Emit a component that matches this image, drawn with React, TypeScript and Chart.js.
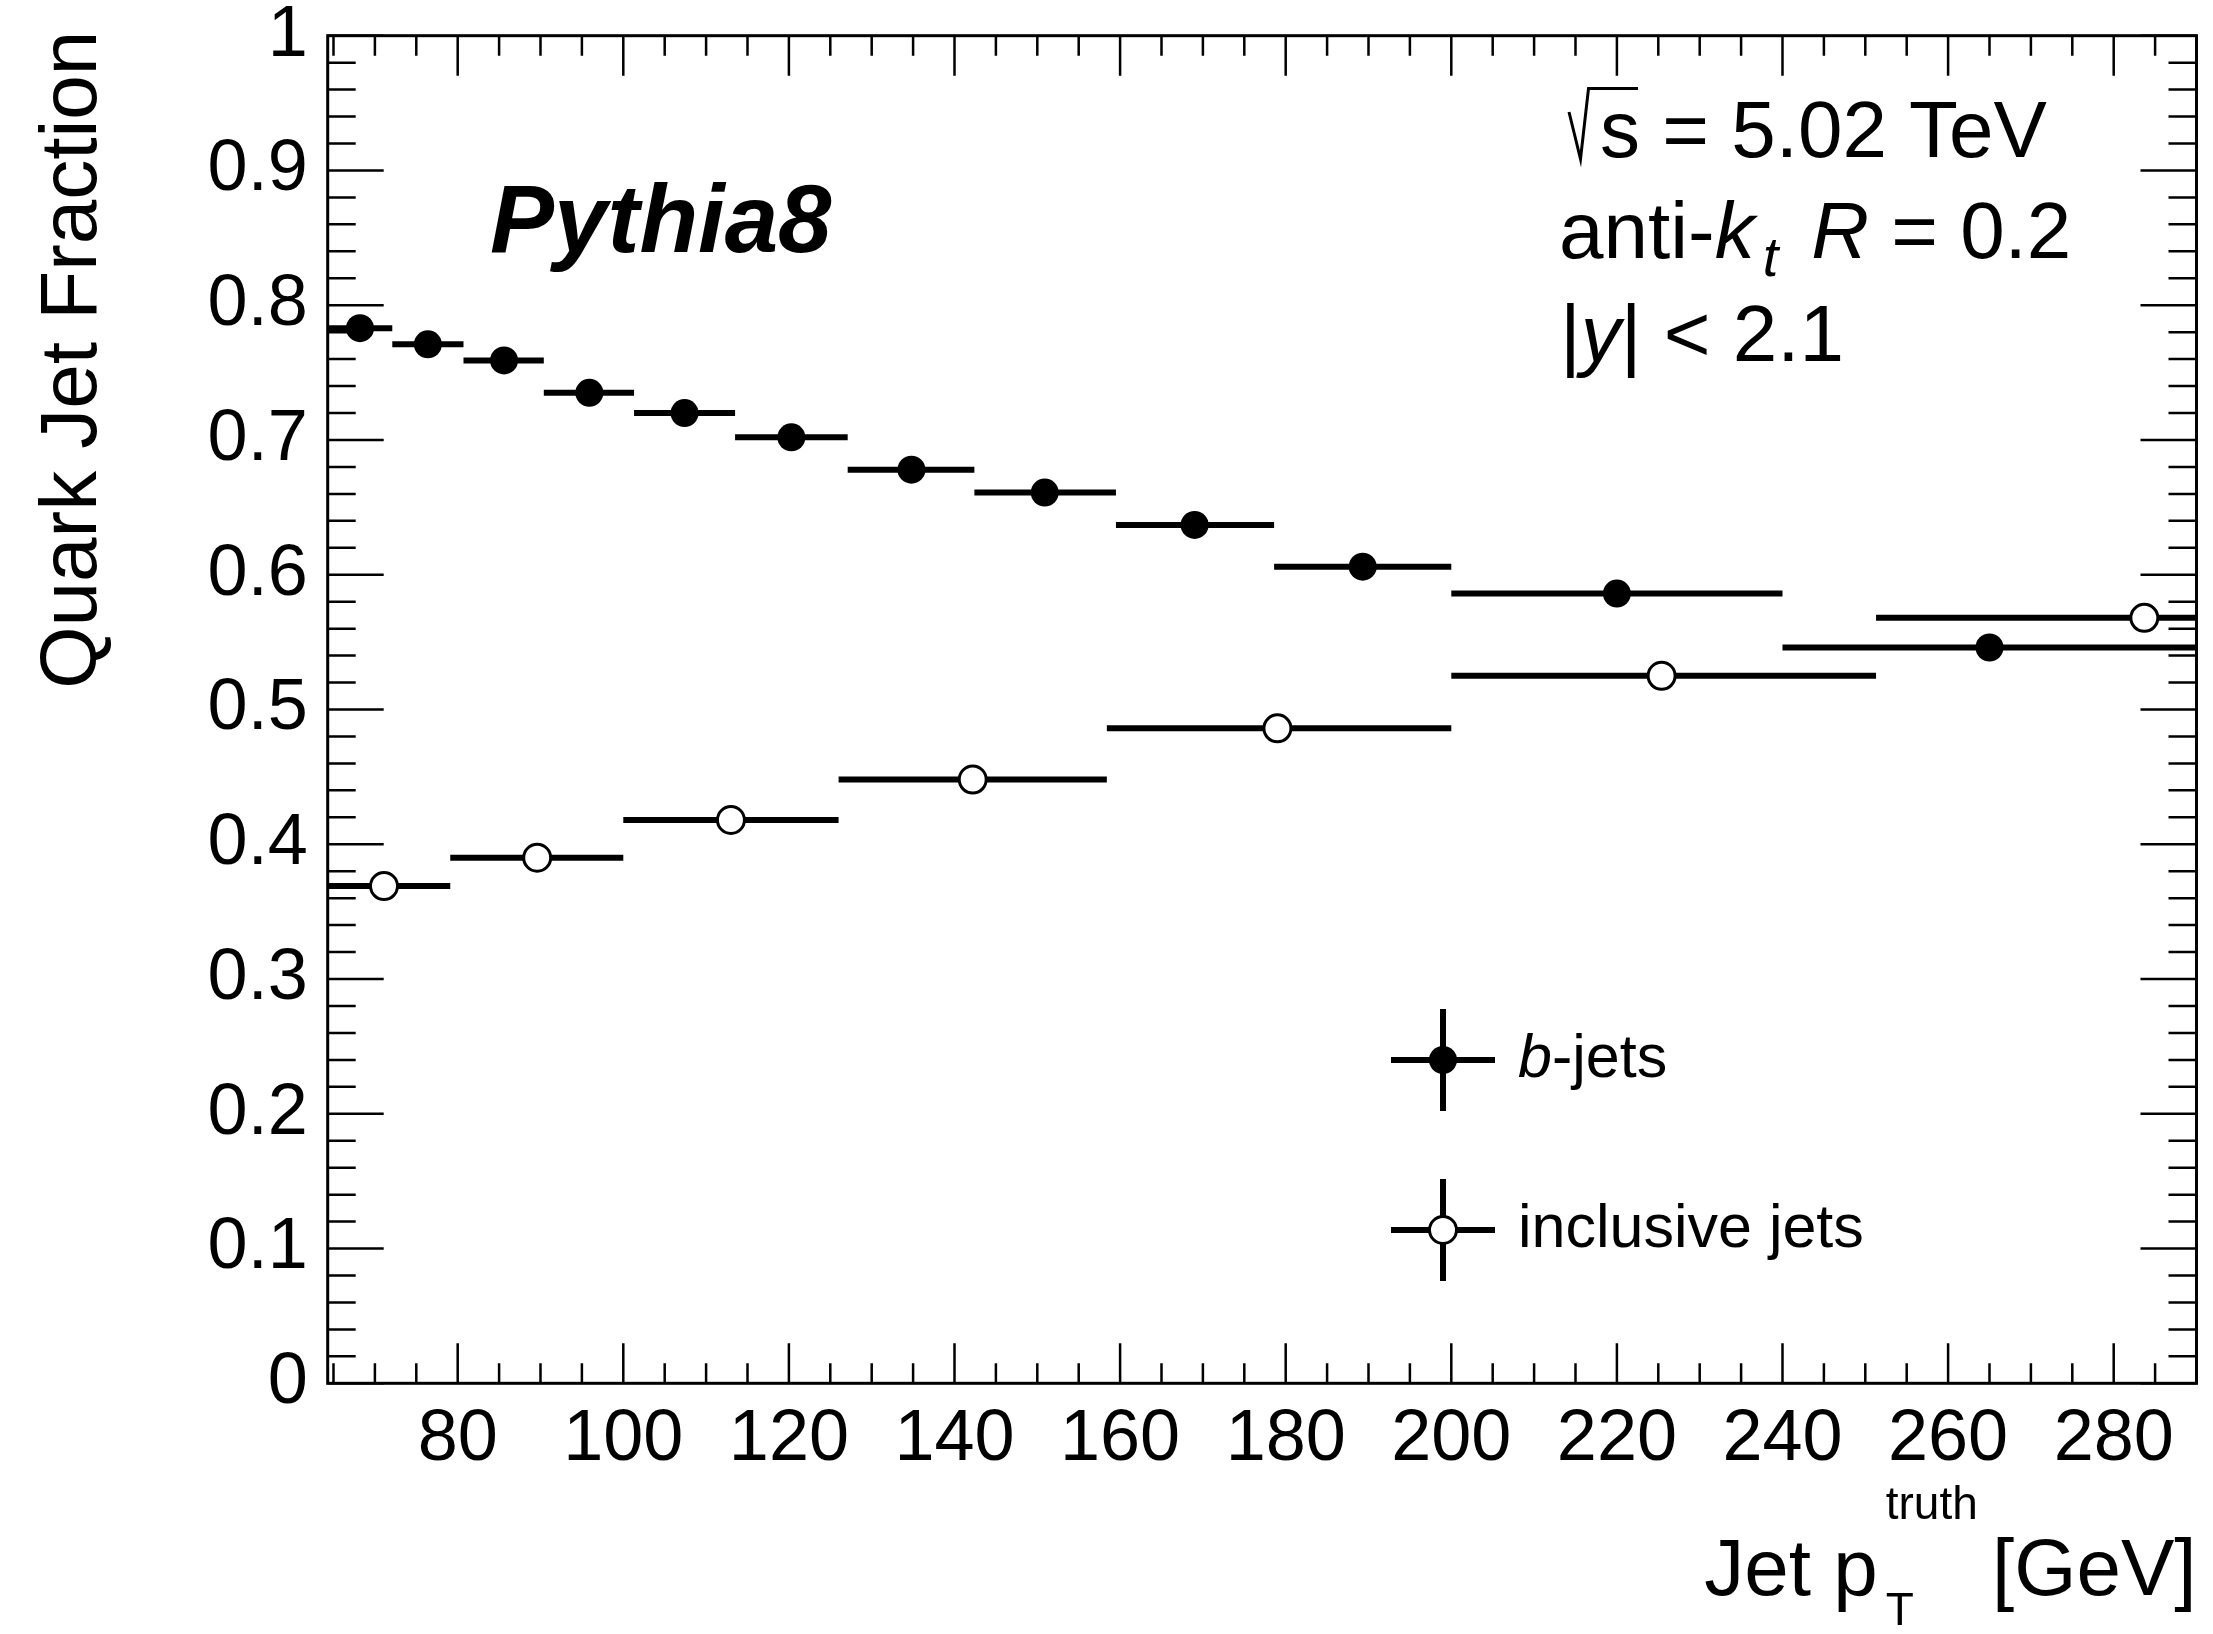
import React, { useEffect, useRef } from "react";
import { Chart, registerables } from "chart.js";

Chart.register(...registerables);

// ---- data ----
const xTickValues = [80, 100, 120, 140, 160, 180, 200, 220, 240, 260, 280];
const yTickValues = [0, 0.1, 0.2, 0.3, 0.4, 0.5, 0.6, 0.7, 0.8, 0.9, 1];

const bBinLow = [64.3, 72.1, 80.7, 90.4, 101.3, 113.5, 127.1, 142.4, 159.5, 178.6, 200, 240];
const bBinHigh = [72.1, 80.7, 90.4, 101.3, 113.5, 127.1, 142.4, 159.5, 178.6, 200, 240, 290];
const bPt = [68.2, 76.4, 85.6, 95.9, 107.4, 120.3, 134.8, 150.9, 169.0, 189.3, 220.0, 265.0];
const bFraction = [0.783, 0.771, 0.759, 0.735, 0.72, 0.702, 0.678, 0.661, 0.637, 0.606, 0.586, 0.546];

const inclBinLow = [63.2, 79.1, 100, 126, 158.4, 200, 251.3];
const inclBinHigh = [79.1, 100, 126, 158.4, 200, 251.3, 316];
const inclPt = [71.1, 89.6, 113.0, 142.2, 179.0, 225.4, 283.7];
const inclFraction = [0.369, 0.39, 0.418, 0.448, 0.486, 0.525, 0.568];

const FONT = '"Liberation Sans", Arial, Helvetica, sans-serif';

// target plot frame (pixels in the 2213x1634 page)
const FRAME = { left: 327.7, right: 2197.7, top: 35.7, bottom: 1383.3 };

type Run = { text: string; size: number; italic?: boolean; bold?: boolean; dy?: number; dx?: number };

function setFont(ctx: CanvasRenderingContext2D, r: Run) {
  ctx.font = `${r.italic ? "italic " : ""}${r.bold ? "bold " : ""}${r.size}px ${FONT}`;
}

function drawRuns(ctx: CanvasRenderingContext2D, x: number, y: number, runs: Run[]) {
  let cx = x;
  for (const r of runs) {
    setFont(ctx, r);
    cx += r.dx || 0;
    ctx.fillText(r.text, cx, y + (r.dy || 0));
    cx += ctx.measureText(r.text).width;
  }
  return cx;
}

function runsWidth(ctx: CanvasRenderingContext2D, runs: Run[]) {
  let w = 0;
  for (const r of runs) {
    setFont(ctx, r);
    w += (r.dx || 0) + ctx.measureText(r.text).width;
  }
  return w;
}

const errorBarPlugin = {
  id: "errorBars",
  beforeDatasetsDraw(chart: any) {
    const { ctx, chartArea, scales } = chart;
    const xs = scales.x;
    const ys = scales.y;
    ctx.save();
    ctx.beginPath();
    ctx.rect(chartArea.left, chartArea.top, chartArea.right - chartArea.left, chartArea.bottom - chartArea.top);
    ctx.clip();
    ctx.strokeStyle = "#000";
    ctx.lineWidth = 6;
    ctx.lineCap = "butt";
    const sets = [
      { lo: bBinLow, hi: bBinHigh, v: bFraction },
      { lo: inclBinLow, hi: inclBinHigh, v: inclFraction },
    ];
    for (const s of sets) {
      for (let i = 0; i < s.v.length; i++) {
        const py = ys.getPixelForValue(s.v[i]);
        ctx.beginPath();
        ctx.moveTo(xs.getPixelForValue(s.lo[i]), py);
        ctx.lineTo(xs.getPixelForValue(s.hi[i]), py);
        ctx.stroke();
      }
    }
    ctx.restore();
  },
};

const framePlugin = {
  id: "frame",
  afterDatasetsDraw(chart: any) {
    const { ctx, chartArea, scales } = chart;
    const xs = scales.x;
    const ys = scales.y;
    const { left, right, top, bottom } = chartArea;
    ctx.save();
    ctx.strokeStyle = "#000";
    ctx.lineWidth = 2.5;
    ctx.beginPath();
    for (let v = 65; v <= 290; v += 5) {
      const px = xs.getPixelForValue(v);
      const len = v % 20 === 0 ? 40 : 20;
      ctx.moveTo(px, bottom);
      ctx.lineTo(px, bottom - len);
      ctx.moveTo(px, top);
      ctx.lineTo(px, top + len);
    }
    for (let k = 0; k <= 50; k++) {
      const py = ys.getPixelForValue(k * 0.02);
      const len = k % 5 === 0 ? 56 : 28;
      ctx.moveTo(left, py);
      ctx.lineTo(left + len, py);
      ctx.moveTo(right, py);
      ctx.lineTo(right - len, py);
    }
    ctx.stroke();
    ctx.lineWidth = 3;
    ctx.strokeRect(left, top, right - left, bottom - top);
    ctx.restore();
  },
};

const textPlugin = {
  id: "texts",
  afterDraw(chart: any) {
    const { ctx, chartArea } = chart;
    ctx.save();
    ctx.fillStyle = "#000";
    ctx.strokeStyle = "#000";
    ctx.textBaseline = "alphabetic";
    ctx.textAlign = "left";

    // y-axis title
    ctx.save();
    ctx.translate(96, chartArea.top - 5);
    ctx.rotate(-Math.PI / 2);
    ctx.textAlign = "right";
    ctx.font = `80px ${FONT}`;
    ctx.fillText("Quark Jet Fraction", 0, 0);
    ctx.restore();

    // x-axis title
    const xRuns1: Run[] = [{ text: "Jet p", size: 80 }];
    ctx.font = `46px ${FONT}`;
    const wSup = ctx.measureText("truth").width;
    const xRuns2: Run[] = [{ text: " [GeV]", size: 80 }];
    const gap = 8;
    const total = runsWidth(ctx, xRuns1) + gap + wSup + runsWidth(ctx, xRuns2) - 8;
    const xStart = chartArea.right - total;
    const base = 1595;
    const cx = drawRuns(ctx, xStart, base, xRuns1);
    ctx.font = `46px ${FONT}`;
    ctx.fillText("truth", cx + gap, base - 76);
    ctx.fillText("T", cx + gap, base + 30);
    drawRuns(ctx, cx + gap + wSup - 8, base, xRuns2);

    // Pythia8
    drawRuns(ctx, 490, 252, [{ text: "Pythia8", size: 96, bold: true, italic: true }]);

    // sqrt(s) line
    ctx.lineWidth = 3;
    ctx.lineJoin = "miter";
    ctx.beginPath();
    ctx.moveTo(1569, 112);
    ctx.lineTo(1580.5, 159);
    ctx.lineTo(1588.5, 88.5);
    ctx.lineTo(1638, 88.5);
    ctx.stroke();
    drawRuns(ctx, 1600, 157, [{ text: "s = 5.02 TeV", size: 80 }]);

    // anti-kt line
    drawRuns(ctx, 1559, 258, [
      { text: "anti-", size: 80 },
      { text: "k", size: 80, italic: true },
      { text: "t", size: 56, italic: true, dy: 18, dx: 8 },
      { text: "R", size: 80, italic: true, dx: 33 },
      { text: " = 0.2", size: 80 },
    ]);

    // |y| line
    drawRuns(ctx, 1560, 361, [
      { text: "|", size: 80 },
      { text: "y", size: 80, italic: true },
      { text: "| < 2.1", size: 80 },
    ]);

    // legend
    const entries = [
      { cy: 1060, filled: true, runs: [{ text: "b", size: 61, italic: true }, { text: "-jets", size: 61 }] as Run[] },
      { cy: 1230, filled: false, runs: [{ text: "inclusive jets", size: 61 }] as Run[] },
    ];
    const lx = 1443;
    for (const e of entries) {
      ctx.lineWidth = 6;
      ctx.beginPath();
      ctx.moveTo(lx - 52, e.cy);
      ctx.lineTo(lx + 52, e.cy);
      ctx.moveTo(lx, e.cy - 51);
      ctx.lineTo(lx, e.cy + 51);
      ctx.stroke();
      ctx.beginPath();
      if (e.filled) {
        ctx.arc(lx, e.cy, 14, 0, Math.PI * 2);
        ctx.fillStyle = "#000";
        ctx.fill();
      } else {
        ctx.arc(lx, e.cy, 13.5, 0, Math.PI * 2);
        ctx.fillStyle = "#fff";
        ctx.fill();
        ctx.lineWidth = 3;
        ctx.stroke();
        ctx.fillStyle = "#000";
      }
      drawRuns(ctx, 1518, e.cy + 17, e.runs);
    }
    ctx.restore();
  },
};

export default function App() {
  const canvasRef = useRef<HTMLCanvasElement | null>(null);

  useEffect(() => {
    const canvas = canvasRef.current;
    if (!canvas) return;
    const geom = { yWidth: FRAME.left, xHeight: 1634 - FRAME.bottom };
    const chart = new Chart(canvas, {
      type: "scatter",
      data: {
        datasets: [
          {
            label: "b-jets",
            data: bPt.map((x, i) => ({ x, y: bFraction[i] })),
            pointRadius: 14,
            pointBackgroundColor: "#000",
            pointBorderColor: "#000",
            pointBorderWidth: 0,
            showLine: false,
          },
          {
            label: "inclusive jets",
            data: inclPt.map((x, i) => ({ x, y: inclFraction[i] })),
            pointRadius: 13.5,
            pointBackgroundColor: "#fff",
            pointBorderColor: "#000",
            pointBorderWidth: 3,
            showLine: false,
          },
        ],
      },
      options: {
        responsive: false,
        animation: false,
        devicePixelRatio: 1,
        layout: { padding: { left: 0, top: FRAME.top, right: 2213 - FRAME.right, bottom: 0 } },
        plugins: { legend: { display: false }, tooltip: { enabled: false } },
        scales: {
          x: {
            type: "linear",
            min: 64.3,
            max: 290,
            grid: { display: false, drawTicks: false },
            border: { display: false },
            ticks: {
              font: { family: FONT, size: 72 },
              color: "#000",
              padding: 14,
              autoSkip: false,
              maxRotation: 0,
              callback: (v: any) => String(v),
            },
            afterBuildTicks: (s: any) => {
              s.ticks = xTickValues.map((v) => ({ value: v }));
            },
            afterFit: (s: any) => {
              s.height = geom.xHeight;
              s.paddingLeft = 0;
              s.paddingRight = 0;
            },
          },
          y: {
            type: "linear",
            min: 0,
            max: 1,
            grid: { display: false, drawTicks: false },
            border: { display: false },
            ticks: {
              font: { family: FONT, size: 72 },
              color: "#000",
              padding: 20,
              autoSkip: false,
              callback: (v: any) => String(Math.round(v * 10) / 10),
            },
            afterBuildTicks: (s: any) => {
              s.ticks = yTickValues.map((v) => ({ value: v }));
            },
            afterFit: (s: any) => {
              s.width = geom.yWidth;
              s.paddingTop = 0;
              s.paddingBottom = 0;
            },
          },
        },
      } as any,
      plugins: [errorBarPlugin, framePlugin, textPlugin],
    });
    // correct any layout drift so the frame lands exactly where the reference has it
    const ca = chart.chartArea;
    const pad = (chart.options as any).layout.padding;
    const dTop = FRAME.top - ca.top;
    const dRight = ca.right - FRAME.right;
    const dLeft = FRAME.left - ca.left;
    const dBottom = ca.bottom - FRAME.bottom;
    if (Math.abs(dTop) > 0.2 || Math.abs(dRight) > 0.2 || Math.abs(dLeft) > 0.2 || Math.abs(dBottom) > 0.2) {
      pad.top = Math.max(0, pad.top + dTop);
      pad.right = Math.max(0, pad.right + dRight);
      geom.yWidth += dLeft;
      geom.xHeight += dBottom;
      chart.update();
    }
    return () => chart.destroy();
  }, []);

  return (
    <div style={{ position: "absolute", left: 0, top: 0, width: 2213, height: 1634, background: "#fff" }}>
      <canvas ref={canvasRef} width={2213} height={1634} style={{ display: "block" }} />
    </div>
  );
}
